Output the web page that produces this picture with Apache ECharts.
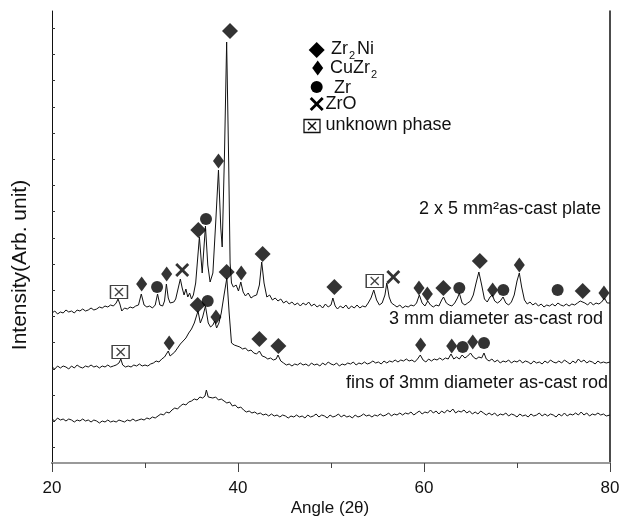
<!DOCTYPE html>
<html>
<head>
<meta charset="utf-8">
<script src="https://cdn.jsdelivr.net/npm/echarts@6/dist/echarts.min.js"></script>
<style>html,body{margin:0;padding:0;background:#fff}#c{width:630px;height:517px}</style>
</head>
<body>
<div id="c"></div>
<script>
// ---- data (angle 2θ, intensity arb.) ----
const xTicks = [20, 40, 60, 80];
const yTicks = [435, 409, 383, 356, 330, 304, 278, 252, 225, 199, 173, 147, 121, 94, 68, 42, 16];

const plate = [[20.0,150],[20.3,152],[20.6,149],[20.9,151],[21.2,150],[21.5,153],[21.8,151],[22.1,152],[22.4,150],[22.7,153],[23.0,152],[23.3,154],[23.6,152],[23.9,153],[24.2,155],[24.5,153],[24.8,154],[25.1,156],[25.4,155],[25.7,157],[26.0,156],[26.3,158],[26.6,157],[26.9,160],[27.1,164],[27.3,159],[27.5,152],[27.8,155],[28.1,154],[28.4,156],[28.7,155],[29.0,157],[29.3,158],[29.6,169],[29.9,158],[30.2,156],[30.5,157],[30.8,155],[31.1,158],[31.35,169],[31.6,158],[31.9,157],[32.1,162],[32.3,179],[32.5,165],[32.7,160],[32.9,158],[33.1,161],[33.3,164],[33.5,172],[33.8,184],[34.0,175],[34.2,168],[34.4,174],[34.6,166],[34.8,170],[35.0,164],[35.2,168],[35.45,180],[35.85,226],[36.15,190],[36.5,237],[36.75,198],[37.0,181],[37.3,190],[37.6,240],[37.9,293],[38.15,235],[38.3,216],[38.55,310],[38.78,421],[39.0,300],[39.15,200],[39.3,180],[39.5,176],[39.8,178],[40.05,172],[40.3,181],[40.55,171],[40.8,167],[41.1,170],[41.4,165],[41.7,167],[42.0,168],[42.3,178],[42.55,201],[42.8,180],[43.1,166],[43.4,168],[43.7,163],[44.0,165],[44.3,162],[44.6,164],[44.9,160],[45.2,162],[45.5,159],[45.8,161],[46.1,158],[46.4,160],[46.7,157],[47.0,160],[47.3,158],[47.6,161],[47.9,157],[48.2,159],[48.5,156],[48.8,158],[49.1,155],[49.4,159],[49.7,156],[50.0,158],[50.2,165],[50.45,157],[50.7,154],[51.0,157],[51.3,155],[51.6,158],[51.9,154],[52.2,157],[52.5,155],[52.8,158],[53.1,155],[53.4,157],[53.7,156],[54.0,160],[54.3,165],[54.6,173],[54.9,163],[55.2,158],[55.5,160],[55.8,168],[56.0,180],[56.25,166],[56.5,160],[56.8,158],[57.1,156],[57.4,158],[57.7,155],[58.0,157],[58.3,156],[58.6,158],[58.9,157],[59.2,160],[59.5,168],[59.8,160],[60.1,157],[60.4,162],[60.7,158],[61.0,156],[61.3,158],[61.6,157],[61.9,163],[62.1,166],[62.4,160],[62.7,158],[63.0,157],[63.3,160],[63.6,165],[63.8,170],[64.1,160],[64.4,158],[64.7,160],[65.0,162],[65.3,168],[65.6,180],[65.9,191],[66.2,178],[66.5,164],[66.8,161],[67.1,166],[67.35,168],[67.6,162],[67.9,160],[68.2,162],[68.5,166],[68.8,160],[69.1,158],[69.4,161],[69.7,168],[70.0,182],[70.25,190],[70.5,176],[70.8,163],[71.1,159],[71.4,161],[71.7,158],[72.0,160],[72.3,157],[72.6,159],[72.9,156],[73.2,158],[73.5,157],[73.8,159],[74.1,157],[74.4,160],[74.7,158],[75.0,157],[75.3,159],[75.6,157],[75.9,159],[76.2,158],[76.5,160],[76.8,162],[77.0,164],[77.3,160],[77.6,158],[77.9,161],[78.2,158],[78.5,160],[78.8,159],[79.1,161],[79.4,165],[79.7,160],[80.0,160]];

const rod = [[20.0,96],[20.3,94],[20.6,97],[20.9,95],[21.2,97],[21.5,96],[21.8,94],[22.1,97],[22.4,95],[22.7,98],[23.0,96],[23.3,95],[23.6,97],[23.9,96],[24.2,98],[24.5,96],[24.8,97],[25.1,95],[25.4,97],[25.7,96],[26.0,98],[26.3,96],[26.6,97],[26.9,98],[27.2,100],[27.4,104],[27.6,98],[27.9,96],[28.2,97],[28.5,96],[28.8,98],[29.1,97],[29.4,99],[29.7,97],[30.0,98],[30.3,97],[30.6,99],[30.9,100],[31.2,102],[31.5,101],[31.8,104],[32.1,106],[32.3,108],[32.5,112],[32.7,107],[32.9,108],[33.2,111],[33.5,115],[33.8,119],[34.1,122],[34.4,125],[34.7,130],[35.0,134],[35.3,140],[35.7,152],[35.95,140],[36.2,146],[36.5,157],[36.8,140],[37.05,136],[37.3,138],[37.5,142],[37.7,135],[37.95,140],[38.2,150],[38.5,168],[38.8,185],[39.05,150],[39.3,120],[39.6,118],[39.9,117],[40.2,116],[40.5,114],[40.8,115],[41.1,112],[41.4,113],[41.7,110],[42.0,109],[42.3,112],[42.6,107],[42.9,106],[43.2,104],[43.5,105],[43.8,103],[44.1,104],[44.3,108],[44.6,102],[44.9,100],[45.2,98],[45.5,99],[45.8,97],[46.1,99],[46.4,98],[46.7,100],[47.0,98],[47.3,99],[47.6,97],[47.9,100],[48.2,98],[48.5,99],[48.8,97],[49.1,100],[49.4,98],[49.7,101],[50.0,99],[50.3,98],[50.6,100],[50.9,97],[51.2,99],[51.5,98],[51.8,100],[52.1,99],[52.4,101],[52.7,98],[53.0,100],[53.3,99],[53.6,101],[53.9,99],[54.2,100],[54.5,102],[54.8,100],[55.1,101],[55.4,99],[55.7,102],[56.0,100],[56.3,102],[56.6,101],[56.9,103],[57.2,101],[57.5,103],[57.8,102],[58.1,104],[58.4,102],[58.7,103],[59.0,101],[59.3,104],[59.6,108],[59.9,103],[60.2,101],[60.5,104],[60.8,102],[61.1,104],[61.4,103],[61.7,105],[62.0,103],[62.3,105],[62.6,104],[62.9,109],[63.2,104],[63.5,106],[63.8,104],[64.1,108],[64.4,105],[64.7,107],[65.0,110],[65.3,106],[65.6,104],[65.9,106],[66.2,105],[66.45,110],[66.7,104],[67.0,102],[67.3,104],[67.6,101],[67.9,103],[68.2,100],[68.5,102],[68.8,101],[69.1,103],[69.4,100],[69.7,102],[70.0,101],[70.3,103],[70.6,100],[70.9,102],[71.2,101],[71.5,99],[71.8,102],[72.1,100],[72.4,101],[72.7,99],[73.0,102],[73.3,100],[73.6,103],[73.9,101],[74.2,100],[74.5,102],[74.8,100],[75.1,103],[75.4,101],[75.7,99],[76.0,102],[76.3,100],[76.6,104],[76.9,101],[77.2,103],[77.5,100],[77.8,102],[78.1,101],[78.4,99],[78.7,102],[79.0,100],[79.3,101],[79.6,100],[80.0,101]];

const fins = [[20.0,44],[20.3,42],[20.6,45],[20.9,43],[21.2,44],[21.5,42],[21.8,44],[22.1,43],[22.4,41],[22.7,43],[23.0,42],[23.3,44],[23.6,42],[23.9,43],[24.2,41],[24.5,43],[24.8,42],[25.1,40],[25.4,42],[25.7,41],[26.0,43],[26.3,41],[26.6,42],[26.9,41],[27.2,43],[27.5,42],[27.8,41],[28.1,43],[28.4,42],[28.7,44],[29.0,42],[29.3,43],[29.6,44],[29.9,43],[30.2,45],[30.5,44],[30.8,46],[31.1,45],[31.4,47],[31.7,49],[32.0,48],[32.3,51],[32.6,50],[32.9,53],[33.2,55],[33.5,54],[33.8,57],[34.1,59],[34.4,58],[34.7,61],[35.0,62],[35.3,64],[35.6,63],[35.9,66],[36.2,65],[36.45,67],[36.6,73],[36.8,66],[37.0,67],[37.3,65],[37.6,66],[37.9,63],[38.2,64],[38.5,62],[38.8,60],[39.1,61],[39.4,57],[39.7,58],[40.0,55],[40.3,56],[40.6,53],[40.9,51],[41.2,52],[41.5,50],[41.8,51],[42.1,49],[42.4,50],[42.7,48],[43.0,49],[43.3,47],[43.6,49],[43.9,47],[44.2,48],[44.5,46],[44.8,48],[45.1,47],[45.4,45],[45.7,47],[46.0,46],[46.3,48],[46.6,46],[46.9,47],[47.2,45],[47.5,48],[47.8,46],[48.1,47],[48.4,49],[48.7,46],[49.0,48],[49.3,47],[49.6,45],[49.9,48],[50.2,46],[50.5,47],[50.8,49],[51.1,46],[51.4,48],[51.7,46],[52.0,47],[52.3,45],[52.6,48],[52.9,46],[53.2,47],[53.5,49],[53.8,47],[54.1,48],[54.4,46],[54.7,48],[55.0,47],[55.3,49],[55.6,47],[55.9,48],[56.2,50],[56.5,47],[56.8,49],[57.1,48],[57.4,50],[57.7,48],[58.0,50],[58.3,49],[58.6,51],[58.9,48],[59.2,50],[59.5,52],[59.8,49],[60.1,51],[60.4,50],[60.7,53],[61.0,50],[61.3,52],[61.6,49],[61.9,52],[62.2,50],[62.5,53],[62.8,51],[63.1,54],[63.4,50],[63.7,52],[64.0,51],[64.3,53],[64.6,50],[64.9,52],[65.2,49],[65.5,51],[65.8,49],[66.1,52],[66.4,50],[66.7,48],[67.0,50],[67.3,48],[67.6,50],[67.9,47],[68.2,49],[68.5,48],[68.8,50],[69.1,47],[69.4,49],[69.7,48],[70.0,46],[70.3,49],[70.6,47],[70.9,48],[71.2,46],[71.5,49],[71.8,47],[72.1,48],[72.4,50],[72.7,47],[73.0,49],[73.3,47],[73.6,49],[73.9,48],[74.2,46],[74.5,49],[74.8,47],[75.1,50],[75.4,47],[75.7,49],[76.0,48],[76.3,50],[76.6,48],[76.9,51],[77.2,48],[77.5,50],[77.8,47],[78.1,49],[78.4,48],[78.7,50],[79.0,48],[79.3,49],[79.6,47],[80.0,48]];

// phase markers [angle, marker height]
const markZr2Ni = [[35.73,233],[39.14,432],[42.65,209],[50.36,176],[62.08,175],[66.0,202],[77.06,172],
                   [35.66,158],[38.78,191],[42.3,124],[44.34,117]];
const markCuZr2 = [[29.64,179],[32.33,189],[37.9,302],[40.35,190],[59.46,175],[60.36,169],[67.38,173],[70.25,198],[79.35,170],
                   [32.6,120],[37.63,146],[59.64,118],[62.98,117],[65.24,121]];
const markZr = [[31.3,176],[36.56,244],[63.8,175],[68.53,173],[74.37,173],
                [36.74,162],[64.16,116],[66.45,120]];
const markZrO = [[34.0,193],[56.7,186]];
const markUnknown = [[27.2,171],[54.7,182],[27.38,111]];

const legendItems = ['Zr2Ni', 'CuZr2', 'Zr', 'ZrO', 'unknown phase'];
const sampleLabels = ['2 x 5 mm\u00B2as-cast plate', '3 mm diameter as-cast rod', 'fins of 3mm diameter as-cast rod'];

// ---- chart ----
const FONT = 'Liberation Sans, Arial, Helvetica, sans-serif';
const XPATH = 'path://M0,2 L2,0 L7,5 L12,0 L14,2 L9,7 L14,12 L12,14 L7,9 L2,14 L0,12 L5,7 Z';
const XTHIN = 'path://M0,1 L1,0 L5,4 L9,0 L10,1 L6,5 L10,9 L9,10 L5,6 L1,10 L0,9 L4,5 Z';

const chart = echarts.init(document.getElementById('c'), null, {renderer: 'canvas'});

function lineSeries(name, data) {
  return {name, type: 'line', data, showSymbol: false, symbol: 'none', silent: true,
    lineStyle: {color: '#111', width: 1}, z: 2};
}
function markSeries(name, data, symbol, size, style, z) {
  return {name, type: 'scatter', data, symbol, symbolSize: size, silent: true,
    itemStyle: style || {color: '#000'}, z: z || 5};
}

const sub = {fontSize: 11, fontFamily: FONT, padding: [13, 2, 0, 1], fill: '#111'};
const main = {fontSize: 18, fontFamily: FONT, fill: '#111'};

function txt(x, y, text, opts) {
  return {type: 'text', x, y, style: Object.assign({text, font: '18px ' + FONT, fill: '#111',
    textAlign: 'left', textVerticalAlign: 'middle', align: 'left', verticalAlign: 'middle'}, opts || {})};
}

chart.setOption({
  animation: false,
  backgroundColor: '#fff',
  grid: {left: 52, right: 20, top: 11, bottom: 54, containLabel: false},
  xAxis: [{
    type: 'value', min: 20, max: 80, interval: 20, position: 'bottom',
    axisLine: {show: true, lineStyle: {color: '#444', width: 2}},
    axisTick: {show: true, inside: false, length: 9, lineStyle: {color: '#444', width: 1}},
    minorTick: {show: true, splitNumber: 2, length: 5, lineStyle: {color: '#444', width: 1}},
    axisLabel: {fontSize: 17, fontFamily: FONT, color: '#111', margin: 17,
      customValues: xTicks},
    splitLine: {show: false}, minorSplitLine: {show: false}
  }, {
    type: 'value', min: 20, max: 80, position: 'top',
    axisLine: {show: true, lineStyle: {color: '#999', width: 2}},
    axisTick: {show: false}, axisLabel: {show: false}, splitLine: {show: false}
  }],
  yAxis: [{
    type: 'value', min: 0, max: 452, position: 'left',
    axisLine: {show: true, lineStyle: {color: '#111', width: 1}},
    axisTick: {show: true, inside: true, length: 3, customValues: yTicks, lineStyle: {color: '#333', width: 1}},
    axisLabel: {show: false}, splitLine: {show: false}
  }, {
    type: 'value', min: 0, max: 452, position: 'right',
    axisLine: {show: true, lineStyle: {color: '#111', width: 1.5}},
    axisTick: {show: false}, axisLabel: {show: false}, splitLine: {show: false}
  }],
  series: [
    lineSeries('plate', plate),
    lineSeries('rod', rod),
    lineSeries('fins', fins),
    markSeries('Zr2Ni', markZr2Ni, 'diamond', [16, 16]),
    markSeries('CuZr2', markCuZr2, 'diamond', [11, 15]),
    markSeries('Zr', markZr, 'circle', 12),
    markSeries('ZrO', markZrO, XPATH, 14),
    markSeries('unknownBox', markUnknown, 'rect', [17, 13], {color: '#fff', borderColor: '#111', borderWidth: 1.3}, 5),
    markSeries('unknownX', markUnknown, XTHIN, 9, {color: '#111'}, 6)
  ],
  graphic: [
    // legend symbols
    {type: 'polygon', shape: {points: [[316.7,42],[324.7,50],[316.7,58],[308.7,50]]}, style: {fill: '#000'}},
    {type: 'polygon', shape: {points: [[317.7,60.5],[323.2,68],[317.7,75.5],[312.2,68]]}, style: {fill: '#000'}},
    {type: 'circle', shape: {cx: 316.7, cy: 87, r: 6}, style: {fill: '#000'}},
    {type: 'polygon', shape: {points: [[309.7,99],[311.7,97],[316.7,102],[321.7,97],[323.7,99],[318.7,104],[323.7,109],[321.7,111],[316.7,106],[311.7,111],[309.7,109],[314.7,104]]}, style: {fill: '#000'}},
    {type: 'rect', shape: {x: 304, y: 119.5, width: 16, height: 13}, style: {fill: '#fff', stroke: '#111', lineWidth: 1.3}},
    {type: 'polyline', shape: {points: [[308,122],[316,130]]}, style: {stroke: '#111', lineWidth: 1.4}},
    {type: 'polyline', shape: {points: [[316,122],[308,130]]}, style: {stroke: '#111', lineWidth: 1.4}},
    // legend texts
    {type: 'text', x: 331, y: 49, style: {text: '{a|Zr}{s|2}{a|Ni}', rich: {a: main, s: sub}, verticalAlign: 'middle', textVerticalAlign: 'middle'}},
    {type: 'text', x: 330, y: 68, style: {text: '{a|CuZr}{s|2}', rich: {a: main, s: sub}, verticalAlign: 'middle', textVerticalAlign: 'middle'}},
    txt(334, 88, legendItems[2]),
    txt(325.5, 104, legendItems[3]),
    txt(325.5, 125.5, legendItems[4]),
    // sample labels
    txt(601, 209, sampleLabels[0], {textAlign: 'right', align: 'right'}),
    txt(603, 319, sampleLabels[1], {textAlign: 'right', align: 'right'}),
    txt(608, 383, sampleLabels[2], {textAlign: 'right', align: 'right'}),
    // axis titles
    txt(330, 508, 'Angle (2\u03B8)', {font: '17px ' + FONT, textAlign: 'center', align: 'center'}),
    Object.assign(txt(20, 265, 'Intensity(Arb. unit)', {font: '21px ' + FONT, textAlign: 'center', align: 'center'}), {rotation: Math.PI / 2})
  ]
});
</script>
</body>
</html>
